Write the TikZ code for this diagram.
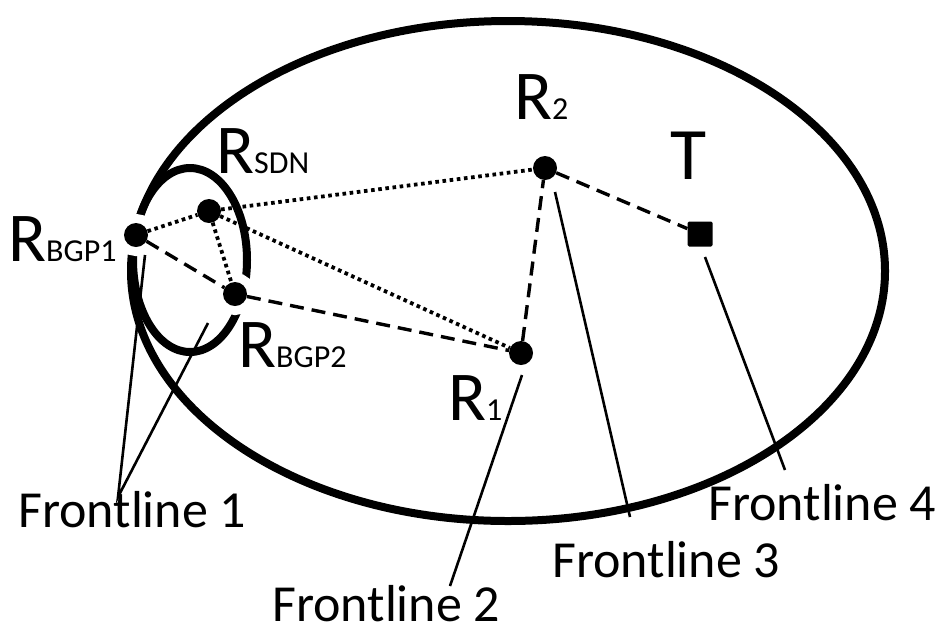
\documentclass[tikz,border=0pt]{standalone}
\usepackage{fontspec}
\setmainfont{Carlito}
\usetikzlibrary{positioning}
\newcommand{\rname}[1]{{\fontsize{70}{70}\selectfont R}{\fontsize{32}{32}\selectfont #1}}
\newcommand{\flfont}{\fontsize{52}{52}\selectfont}

\begin{document}
\begin{tikzpicture}[x=1pt, y=-1pt,
    router/.style={circle, fill=black, minimum size=24pt, inner sep=0pt,
        preaction={draw=white, line width=18pt}},
    target/.style={rectangle, fill=black, minimum size=25pt, inner sep=0pt, rounded corners=1.5pt},
    lbl/.style={inner sep=0pt, text depth=0pt, anchor=base west},
    dotlink/.style={line width=3.8pt, dash pattern=on 3.6pt off 3.6pt},
    dashlink/.style={line width=3.4pt, dash pattern=on 14pt off 8pt},
    front/.style={line width=2.6pt},
    rim/.style={line width=8pt}]
\useasboundingbox (0,0) rectangle (941,633);

% Outer region and the small region round the BGP routers
\draw[rim] (508,271) ellipse [x radius=377, y radius=250];
\draw[rim] (190,260) ellipse [x radius=57, y radius=92];

% Routers and target
\node[router] (bgp1) at (136,235) {};
\node[router] (sdn)  at (209,211) {};
\node[router] (bgp2) at (235,294) {};
\node[router] (r1)   at (521,353) {};
\node[router] (r2)   at (545,168) {};
\node[target] (t)    at (700,234) {};

% Labels
\node[lbl] (lbgp1) at (8,261)   {\rname{BGP1}};
\node[lbl] (lsdn)  at (216,173) {\rname{SDN}};
\node[lbl] (lbgp2) at (238,367) {\rname{BGP2}};
\node[lbl] (lr1)   at (448,420) {\rname{1}};
\node[lbl] (lr2)   at (514,119) {\rname{2}};
\node[lbl] (lt)    at (670,179) {\fontsize{74}{74}\selectfont T};

% Links
\foreach \a/\b in {bgp1/sdn, sdn/r2, sdn/r1, sdn/bgp2}
    \draw[dotlink] (\a) -- (\b);
\foreach \a/\b in {bgp1/bgp2, bgp2/r1, r1/r2, r2/t}
    \draw[dashlink] (\a) -- (\b);

% Frontline labels and pointers
\node[lbl] (fl1) at (18,527)  {\flfont Frontline 1};
\node[lbl] (fl2) at (272,621) {\flfont Frontline 2};
\node[lbl] (fl3) at (552,577) {\flfont Frontline 3};
\node[lbl] (fl4) at (708,520) {\flfont Frontline 4};

\coordinate (f1)  at (118,497);
\coordinate (f1a) at (145,255);
\coordinate (f1b) at (208,323);
\coordinate (f2a) at (522,375);
\coordinate (f2)  at (450,586);
\coordinate (f3a) at (555,192);
\coordinate (f3)  at (630,517);
\coordinate (f4a) at (705,257);
\coordinate (f4)  at (785,470);

\draw[front] (f1a) -- (f1) -- (f1b);
\draw[front] (f2a) -- (f2);
\draw[front] (f3a) -- (f3);
\draw[front] (f4a) -- (f4);
\end{tikzpicture}
\end{document}
